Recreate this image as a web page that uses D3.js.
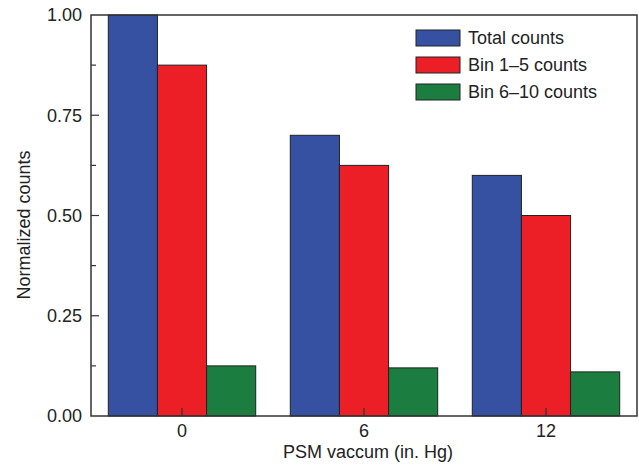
<!DOCTYPE html>
<html>
<head>
<meta charset="utf-8">
<script src="https://cdn.jsdelivr.net/npm/d3@7"></script>
<style>
  body { margin: 0; background: #fff; }
  text { font-family: "Liberation Sans", Arial, sans-serif; fill: #222; }
</style>
</head>
<body>
<svg id="chart" width="639" height="468"></svg>
<script>
// grouped bars: normalized counts vs PSM vacuum
const categories = ["0", "6", "12"];
const seriesNames = ["Total counts", "Bin 1\u20135 counts", "Bin 6\u201310 counts"];
const totalCounts = [1.00, 0.70, 0.60];
const bin1to5 = [0.875, 0.625, 0.50];
const bin6to10 = [0.125, 0.12, 0.11];
const yTicks = [0, 0.25, 0.5, 0.75, 1.0];
const yMinorTicks = [0.125, 0.375, 0.625, 0.875];

const colors = ["#3650a2", "#ec1f26", "#1b7e40"];
const series = [totalCounts, bin1to5, bin6to10];

const margin = { top: 15, right: 2, bottom: 52, left: 91 };
const width = 639 - margin.left - margin.right;
const height = 468 - margin.top - margin.bottom;
const fontSize = "18px";

const svg = d3.select("#chart");
const g = svg.append("g").attr("transform", `translate(${margin.left},${margin.top})`);

const x0 = d3.scaleBand().domain(categories).range([0, width]).paddingInner(0).paddingOuter(0);
const groupWidth = x0.bandwidth() * 0.81;
const x1 = d3.scaleBand().domain(d3.range(series.length)).range([0, groupWidth]);
const y = d3.scaleLinear().domain([0, 1]).range([height, 0]);

// bars
categories.forEach((c, ci) => {
  const grp = g.append("g")
    .attr("transform", `translate(${x0(c) + (x0.bandwidth() - groupWidth) / 2},0)`);
  series.forEach((vals, si) => {
    grp.append("rect")
      .attr("x", x1(si))
      .attr("y", y(vals[ci]))
      .attr("width", x1.bandwidth())
      .attr("height", height - y(vals[ci]))
      .attr("fill", colors[si])
      .attr("stroke", "#222")
      .attr("stroke-width", 1);
  });
});

// frame
g.append("rect")
  .attr("width", width).attr("height", height)
  .attr("fill", "none").attr("stroke", "#333").attr("stroke-width", 1.5);

// y axis, ticks inside
const yAxis = g.append("g")
  .call(d3.axisLeft(y).tickValues(yTicks).tickFormat(d3.format(".2f")).tickSize(0).tickPadding(9));
yAxis.select(".domain").remove();
yAxis.selectAll("text").style("font-size", fontSize).attr("fill", "#222");
g.selectAll(".ymaj").data(yTicks.slice(1, -1)).enter().append("line")
  .attr("x1", 0).attr("x2", 8).attr("y1", d => y(d)).attr("y2", d => y(d))
  .attr("stroke", "#333").attr("stroke-width", 1.2);
g.selectAll(".ymin").data(yMinorTicks).enter().append("line")
  .attr("x1", 0).attr("x2", 5).attr("y1", d => y(d)).attr("y2", d => y(d))
  .attr("stroke", "#333").attr("stroke-width", 1.2);

// x axis
const xAxis = g.append("g")
  .attr("transform", `translate(0,${height})`)
  .call(d3.axisBottom(x0).tickSize(0).tickPadding(8));
xAxis.select(".domain").remove();
xAxis.selectAll("text").style("font-size", fontSize).attr("fill", "#222");
g.selectAll(".xtick").data(categories).enter().append("line")
  .attr("x1", d => x0(d) + x0.bandwidth() / 2).attr("x2", d => x0(d) + x0.bandwidth() / 2)
  .attr("y1", height).attr("y2", height - 8)
  .attr("stroke", "#333").attr("stroke-width", 1.2);

// axis titles
g.append("text")
  .attr("x", 368 - margin.left).attr("y", 458 - margin.top)
  .attr("text-anchor", "middle").style("font-size", fontSize)
  .text("PSM vaccum (in. Hg)");

g.append("text")
  .attr("transform", `translate(${30 - margin.left},${225 - margin.top}) rotate(-90)`)
  .attr("text-anchor", "middle").style("font-size", fontSize)
  .text("Normalized counts");

// legend
const legend = g.append("g").attr("transform", `translate(${416 - margin.left},${30 - margin.top})`);
seriesNames.forEach((name, i) => {
  const item = legend.append("g").attr("transform", `translate(0,${i * 27})`);
  item.append("rect")
    .attr("width", 44).attr("height", 16)
    .attr("fill", colors[i]).attr("stroke", "#222").attr("stroke-width", 1);
  item.append("text")
    .attr("x", 52).attr("y", 8).attr("dy", "0.35em")
    .style("font-size", fontSize)
    .text(name);
});
</script>
</body>
</html>
